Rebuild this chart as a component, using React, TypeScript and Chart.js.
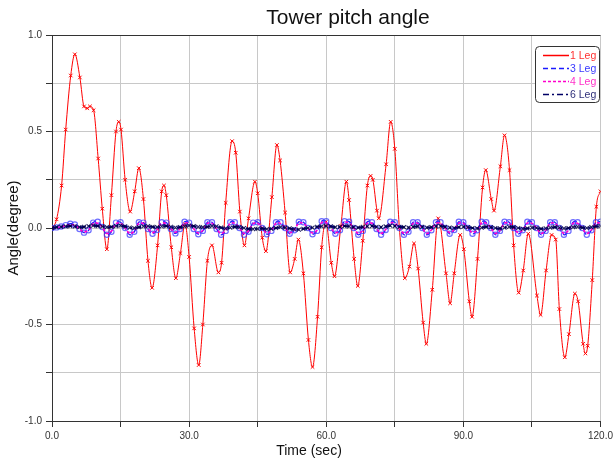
import React, { useEffect, useRef } from "react";
import { Chart, registerables } from "chart.js";
Chart.register(...registerables);

const TITLE = "Tower pitch angle";
const X_TITLE = "Time (sec)";
const Y_TITLE = "Angle(degree)";
const SERIES_LABELS = ["1 Leg", "3 Leg", "4 Leg", "6 Leg"];

// 1 Leg: time (sec) and angle (degree)
const leg1T = [
  0, 1.0, 2.1, 3.0, 4.1, 5.0, 6.1, 7.0, 7.7, 8.3, 9.1, 10.1, 11.0, 12.0, 13.0, 14.0, 14.6, 15.1, 16.0, 17.1,
  18.1, 19.0, 20.0, 21.0, 21.9, 23.1, 24.0, 24.5, 25.0, 26.1, 27.1, 28.1, 29.1, 30.0, 31.1, 32.1, 33.0, 34.0, 35.0, 36.4,
  37.1, 38.0, 39.4, 40.2, 41.1, 42.1, 43.0, 44.4, 45.0, 46.0, 46.8, 48.1, 49.2, 49.9, 51.0, 52.1, 53.1, 53.9, 55.0, 56.1,
  57.0, 58.1, 59.0, 59.9, 61.1, 61.8, 63.2, 64.4, 65.0, 66.1, 66.9, 68.0, 69.0, 69.7, 70.2, 71.1, 71.5, 73.1, 74.1, 75.0,
  76.0, 77.2, 78.2, 79.2, 80.1, 81.2, 81.9, 83.2, 84.5, 86.2, 87.1, 88.0, 89.3, 90.1, 91.3, 91.9, 93.1, 94.2, 94.9, 96.1,
  96.7, 98.1, 99.0, 100.1, 101.0, 102.1, 103.1, 104.2, 106.1, 106.9, 108.1, 109.3, 110.2, 111.0, 112.2, 113.1, 114.4, 115.1, 116.2, 116.7,
  117.2, 118.2, 119.1, 120.0,
];
const leg1V = [
  0, 0.045, 0.22, 0.51, 0.79, 0.9, 0.78, 0.63, 0.62, 0.63, 0.61, 0.36, 0.1, -0.11, 0.17, 0.5, 0.55, 0.51, 0.25, 0.085,
  0.19, 0.31, 0.15, -0.17, -0.31, -0.09, 0.19, 0.22, 0.17, -0.1, -0.26, -0.13, 0.02, -0.15, -0.52, -0.71, -0.5, -0.17, -0.09, -0.23,
  -0.18, 0.13, 0.45, 0.39, 0.085, -0.09, 0.05, 0.24, 0.18, -0.05, -0.12, 0.16, 0.43, 0.35, 0.08, -0.23, -0.16, -0.06, -0.235, -0.58,
  -0.72, -0.46, -0.1, 0.03, -0.18, -0.25, 0.01, 0.24, 0.145, -0.16, -0.3, -0.066, 0.22, 0.27, 0.25, 0.09, 0.05, 0.33, 0.55, 0.41,
  0.0, -0.26, -0.2, -0.08, -0.21, -0.49, -0.6, -0.32, 0.05, -0.235, -0.39, -0.235, -0.036, -0.11, -0.38, -0.46, -0.16, 0.21, 0.3, 0.15,
  0.09, 0.32, 0.48, 0.3, -0.09, -0.335, -0.22, -0.03, -0.35, -0.45, -0.22, -0.036, -0.06, -0.42, -0.67, -0.55, -0.34, -0.38, -0.6, -0.65,
  -0.61, -0.27, 0.11, 0.19,
];

// 3, 4 and 6 Leg share a 1-second time grid
const smallT = Array.from({ length: 121 }, (_, i) => i);
const leg3V = [
  0.0, 0.003, 0.008, 0.015, 0.022, 0.018, -0.005, -0.024, -0.012, 0.028,
  0.032, 0.005, -0.035, -0.02, 0.028, 0.03, 0.0, -0.035, -0.02, 0.03,
  0.028, -0.005, -0.03, -0.01, 0.03, 0.028, -0.005, -0.028, -0.005, 0.032,
  0.028, -0.005, -0.032, -0.015, 0.03, 0.03, -0.005, -0.035, -0.015, 0.03,
  0.03, 0.0, -0.035, -0.02, 0.028, 0.03, 0.0, -0.032, -0.015, 0.03,
  0.03, 0.0, -0.03, -0.012, 0.032, 0.03, 0.0, -0.032, -0.015, 0.035,
  0.035, 0.0, -0.03, -0.012, 0.035, 0.033, 0.0, -0.035, -0.015, 0.032,
  0.03, -0.005, -0.035, -0.01, 0.032, 0.03, 0.0, -0.035, -0.02, 0.03,
  0.03, 0.0, -0.035, -0.012, 0.03, 0.03, 0.0, -0.03, -0.01, 0.032,
  0.03, 0.0, -0.03, -0.012, 0.033, 0.03, 0.0, -0.035, -0.015, 0.032,
  0.03, 0.0, -0.03, -0.012, 0.033, 0.03, 0.0, -0.035, -0.015, 0.03,
  0.03, 0.0, -0.035, -0.015, 0.03, 0.03, 0.0, -0.035, -0.012, 0.03,
  0.033,
];
const leg4V = [
  0.0, 0.002, 0.006, 0.012, 0.018, 0.014, -0.004, -0.02, -0.01, 0.022,
  0.025, 0.004, -0.028, -0.016, 0.022, 0.024, 0.0, -0.028, -0.016, 0.024,
  0.022, -0.004, -0.024, -0.008, 0.024, 0.022, -0.004, -0.022, -0.004, 0.025,
  0.022, -0.004, -0.026, -0.012, 0.024, 0.024, -0.004, -0.028, -0.012, 0.024,
  0.024, 0.0, -0.028, -0.016, 0.022, 0.024, 0.0, -0.026, -0.012, 0.024,
  0.024, 0.0, -0.024, -0.01, 0.025, 0.024, 0.0, -0.026, -0.012, 0.028,
  0.028, 0.0, -0.024, -0.01, 0.028, 0.026, 0.0, -0.028, -0.012, 0.025,
  0.024, -0.004, -0.028, -0.008, 0.025, 0.024, 0.0, -0.028, -0.016, 0.024,
  0.024, 0.0, -0.028, -0.01, 0.024, 0.024, 0.0, -0.024, -0.008, 0.025,
  0.024, 0.0, -0.024, -0.01, 0.026, 0.024, 0.0, -0.028, -0.012, 0.025,
  0.024, 0.0, -0.024, -0.01, 0.026, 0.024, 0.0, -0.028, -0.012, 0.024,
  0.024, 0.0, -0.028, -0.012, 0.024, 0.024, 0.0, -0.028, -0.01, 0.024,
  0.026,
];
const leg6V = [
  0.0, 0.004, 0.006, 0.008, 0.01, 0.008, 0.004, 0.006, 0.01, 0.012,
  0.01, 0.008, 0.004, 0.006, 0.01, 0.012, 0.008, 0.002, 0.0, 0.004,
  0.008, 0.01, 0.006, 0.004, 0.008, 0.01, 0.006, 0.002, 0.004, 0.008,
  0.012, 0.01, 0.006, 0.004, 0.006, 0.01, 0.008, 0.002, -0.002, 0.002,
  0.006, 0.004, 0.0, -0.004, -0.006, -0.004, -0.002, -0.006, -0.004, 0.0,
  0.004, 0.002, -0.002, -0.006, -0.008, -0.004, 0.0, 0.002, 0.006, 0.008,
  0.01, 0.008, 0.004, 0.006, 0.01, 0.008, 0.004, 0.002, 0.006, 0.008,
  0.01, 0.006, 0.004, 0.008, 0.012, 0.01, 0.006, 0.004, 0.002, 0.006,
  0.008, 0.006, 0.002, 0.004, 0.008, 0.01, 0.006, 0.002, 0.0, 0.004,
  0.006, 0.004, 0.0, -0.002, 0.002, 0.006, 0.004, 0.0, -0.002, 0.002,
  0.006, 0.004, 0.0, -0.004, -0.002, 0.002, 0.0, -0.004, -0.002, 0.002,
  0.004, 0.002, -0.002, 0.0, 0.004, 0.006, 0.002, 0.0, 0.004, 0.008,
  0.01,
];

const X_MIN = 0, X_MAX = 120, X_STEP = 15, X_LABEL_EVERY = 30;
const Y_MIN = -1, Y_MAX = 1, Y_STEP = 0.25, Y_LABEL_EVERY = 0.5;

const COLORS = ["#ff0000", "#1a1aff", "#ff00cc", "#000066"];
const TEXT_COLORS = ["#ff3030", "#3838ff", "#ff30c8", "#30307a"];
const FONT = "'Liberation Sans', Arial, sans-serif";

const pts = (t: number[], v: number[]) => t.map((x, i) => ({ x, y: v[i] }));

const decor = {
  id: "decor",
  afterDraw(chart: any) {
    const { ctx, chartArea: a } = chart;
    ctx.save();
    // top frame line
    ctx.strokeStyle = "#333";
    ctx.lineWidth = 1;
    ctx.beginPath();
    ctx.moveTo(a.left, Math.round(a.top) + 0.5);
    ctx.lineTo(a.right, Math.round(a.top) + 0.5);
    ctx.stroke();

    ctx.fillStyle = "#111";
    ctx.textAlign = "center";
    ctx.textBaseline = "middle";
    ctx.font = `21px ${FONT}`;
    ctx.fillText(TITLE, 348, 18);
    ctx.font = `14px ${FONT}`;
    ctx.fillText(X_TITLE, 309, 451);
    ctx.save();
    ctx.translate(14, 228);
    ctx.rotate(-Math.PI / 2);
    ctx.font = `15px ${FONT}`;
    ctx.fillText(Y_TITLE, 0, 0);
    ctx.restore();

    // legend box
    const bx = 535.5, by = 46.5, bw = 64, bh = 56;
    ctx.fillStyle = "#fff";
    ctx.strokeStyle = "#333";
    ctx.beginPath();
    ctx.roundRect(bx, by, bw, bh, 4);
    ctx.fill();
    ctx.stroke();
    ctx.font = `10.5px ${FONT}`;
    ctx.textAlign = "left";
    chart.data.datasets.forEach((ds: any, i: number) => {
      const y = 55.5 + i * 13;
      ctx.strokeStyle = COLORS[i];
      ctx.lineWidth = i === 0 ? 1.5 : 1.3;
      ctx.setLineDash(ds.legendDash || []);
      ctx.beginPath();
      ctx.moveTo(543, y);
      ctx.lineTo(569, y);
      ctx.stroke();
      ctx.setLineDash([]);
      ctx.fillStyle = TEXT_COLORS[i];
      ctx.fillText(ds.label, 570, y + 0.5);
    });
    ctx.restore();
  },
};

export default function App() {
  const ref = useRef<HTMLCanvasElement | null>(null);
  useEffect(() => {
    if (!ref.current) return;
    const chart = new Chart(ref.current, {
      type: "line",
      data: {
        datasets: [
          {
            label: SERIES_LABELS[0],
            data: pts(leg1T, leg1V),
            borderColor: COLORS[0],
            borderWidth: 1,
            pointStyle: "crossRot",
            pointRadius: 2.5,
            pointBorderColor: COLORS[0],
            pointBorderWidth: 1,
            cubicInterpolationMode: "monotone",
            order: 4,
            legendDash: [],
          } as any,
          {
            label: SERIES_LABELS[1],
            data: pts(smallT, leg3V),
            borderColor: COLORS[1],
            borderWidth: 1.3,
            borderDash: [5, 3],
            pointStyle: "circle",
            pointRadius: 2.6,
            pointBorderColor: "rgba(60,60,255,0.75)",
            pointBackgroundColor: "rgba(0,0,0,0)",
            pointBorderWidth: 1.2,
            tension: 0.4,
            order: 3,
            legendDash: [5, 3],
          } as any,
          {
            label: SERIES_LABELS[2],
            data: pts(smallT, leg4V),
            borderColor: COLORS[2],
            borderWidth: 1.6,
            borderDash: [3, 2],
            pointRadius: 0,
            tension: 0.4,
            order: 2,
            legendDash: [3, 2],
          } as any,
          {
            label: SERIES_LABELS[3],
            data: pts(smallT, leg6V),
            borderColor: COLORS[3],
            borderWidth: 2,
            borderDash: [6, 3, 2, 3],
            pointStyle: "crossRot",
            pointRadius: 2.8,
            pointBorderColor: "rgba(0,0,70,0.85)",
            pointBorderWidth: 1.1,
            tension: 0.4,
            order: 1,
            legendDash: [6, 3, 2, 3],
          } as any,
        ],
      },
      options: {
        animation: false,
        responsive: false,
        devicePixelRatio: 1,
        layout: { padding: { top: 35, right: 10, left: 0, bottom: 0 } },
        plugins: { legend: { display: false }, title: { display: false }, tooltip: { enabled: false } },
        scales: {
          x: {
            type: "linear",
            min: X_MIN,
            max: X_MAX,
            afterFit: (s: any) => { s.height = 38; },
            afterBuildTicks: (s: any) => {
              const t = [];
              for (let v = X_MIN; v <= X_MAX; v += X_STEP) t.push({ value: v });
              s.ticks = t;
            },
            ticks: {
              autoSkip: false,
              maxRotation: 0,
              padding: 3,
              color: "#333",
              font: { family: FONT, size: 10 },
              callback: (v: any) => (Number(v) % X_LABEL_EVERY === 0 ? Number(v).toFixed(1) : ""),
            },
            grid: { color: "#c8c8c8", tickColor: "#333", tickLength: 6, lineWidth: 1 },
            border: { color: "#333", width: 1 },
          },
          y: {
            type: "linear",
            min: Y_MIN,
            max: Y_MAX,
            afterFit: (s: any) => { s.width = 52; },
            afterBuildTicks: (s: any) => {
              const t = [];
              for (let v = Y_MIN; v <= Y_MAX + 1e-9; v += Y_STEP) t.push({ value: Math.round(v * 100) / 100 });
              s.ticks = t;
            },
            ticks: {
              autoSkip: false,
              padding: 4,
              color: "#333",
              font: { family: FONT, size: 10 },
              callback: (v: any) => {
                const n = Number(v);
                return Math.abs(n / Y_LABEL_EVERY - Math.round(n / Y_LABEL_EVERY)) < 1e-6 ? n.toFixed(1) : "";
              },
            },
            grid: { color: "#c8c8c8", tickColor: "#333", tickLength: 6, lineWidth: 1 },
            border: { color: "#333", width: 1 },
          },
        },
      },
      plugins: [decor],
    } as any);
    return () => chart.destroy();
  }, []);
  return (
    <div style={{ position: "fixed", left: 0, top: 0, width: 616, height: 459, background: "#fff" }}>
      <canvas ref={ref} width={616} height={459} style={{ display: "block" }} />
    </div>
  );
}
